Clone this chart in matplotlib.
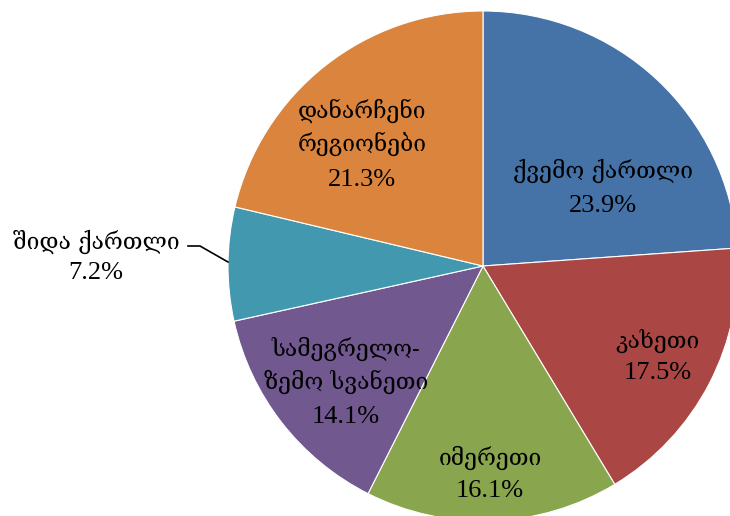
import matplotlib
matplotlib.use("Agg")
import matplotlib.pyplot as plt

# region shares, clockwise from the top
regions = ["ქვემო ქართლი", "კახეთი", "იმერეთი", "სამეგრელო-\nზემო სვანეთი",
           "შიდა ქართლი", "დანარჩენი\nრეგიონები"]
shares = [23.9, 17.5, 16.1, 14.1, 7.2, 21.3]
colors = ["#4572A7", "#AA4643", "#89A54E", "#71588F", "#4198AF", "#DB843D"]

# label spots in pixels: x centre, y of name block centre, y of the percent
R = 255.0
CX, CY = 483.0, 266.0
label_px = [(603, 171, 206), (658, 341, 373), (490, 458, 491), (346, 365, 417),
            (96, 242, 273), (362, 127, 180)]

fig = plt.figure(figsize=(7.30, 5.16), dpi=100)
ax = fig.add_axes([0, 0, 1, 1])

wedges, _ = ax.pie(shares, colors=colors, startangle=90, counterclock=False,
                   radius=1.0, wedgeprops=dict(edgecolor="white", linewidth=0.8))

for name, val, (px, py1, py2) in zip(regions, shares, label_px):
    x = (px - CX) / R
    ax.text(x, (CY - py1) / R, name, ha="center", va="center",
            fontsize=16.5, family=["DejaVu Serif", "DejaVu Sans"],
            linespacing=1.45, color="black")
    ax.text(x, (CY - py2) / R, f"{val}%", ha="center", va="center",
            fontsize=19, family=["Liberation Serif", "DejaVu Serif"], color="black")

# leader line for the small slice
ax.plot([(188 - CX) / R, (200 - CX) / R, (228 - CX) / R],
        [(CY - 246) / R, (CY - 246) / R, (CY - 262) / R], color="black", lw=1.2)

ax.set_xlim(-CX / R, (730 - CX) / R)
ax.set_ylim((CY - 516) / R, CY / R)
ax.set_aspect("auto")
ax.axis("off")

fig.savefig("out.png", dpi=100)
